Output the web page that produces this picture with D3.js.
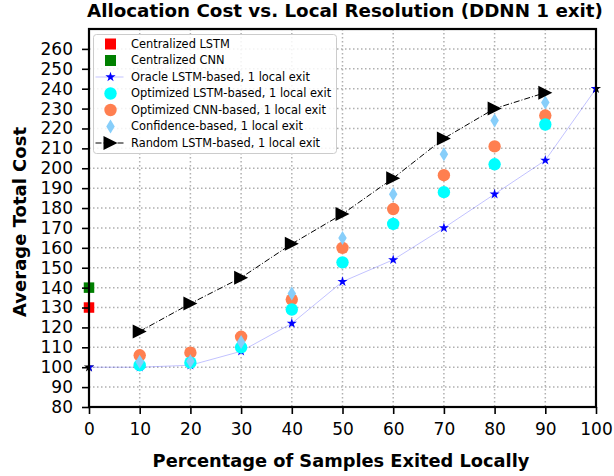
<!DOCTYPE html>
<html>
<head>
<meta charset="utf-8">
<script src="https://cdn.jsdelivr.net/npm/d3@7"></script>
<style>
  html, body { margin: 0; padding: 0; background: #fff; }
  svg { display: block; font-family: "DejaVu Sans", sans-serif; }
</style>
</head>
<body>
<svg id="chart" width="614" height="476"></svg>
<script>
// Percentage of samples exited locally
const pctExited = [0, 10, 20, 30, 40, 50, 60, 70, 80, 90, 100];
const pctMid = [10, 20, 30, 40, 50, 60, 70, 80, 90];

// Average total cost per strategy
const centralizedLSTM = 130;
const centralizedCNN = 140;
const oracleLSTM = [100, 100, 101, 108, 122, 143, 154, 170, 187, 204, 240];
const optimizedLSTM = [101, 102.3, 110, 129, 152.7, 172, 188, 202, 222];
const optimizedCNN = [106, 107.3, 115.3, 134, 160, 179.5, 196.5, 211, 226.5];
const confidence = [102.7, 103, 112.7, 137, 165, 187, 207, 224, 233];
const randomLSTM = [118, 132, 145, 162, 177, 195, 215, 230, 238];

const xTicks = [0, 10, 20, 30, 40, 50, 60, 70, 80, 90, 100];
const yTicks = [80, 90, 100, 110, 120, 130, 140, 150, 160, 170, 180, 190, 200, 210, 220, 230, 240, 250, 260];

const svg = d3.select("#chart");
const plot = { left: 89, right: 596, top: 29, bottom: 407 };

const x = d3.scaleLinear().domain([0, 100]).range([plot.left, plot.right]);
const y = d3.scaleLinear().domain([80, 270]).range([plot.bottom, plot.top]);

// Clip region for the axes area
svg.append("defs").append("clipPath").attr("id", "plotClip")
  .append("rect")
  .attr("x", plot.left).attr("y", plot.top)
  .attr("width", plot.right - plot.left).attr("height", plot.bottom - plot.top);

// Dotted grid
const grid = svg.append("g");
grid.selectAll("line.gx").data(xTicks).join("line")
  .attr("x1", d => x(d)).attr("x2", d => x(d))
  .attr("y1", plot.top).attr("y2", plot.bottom)
  .attr("stroke", "#b0b0b0").attr("stroke-width", 1.5).attr("stroke-dasharray", "1.5,2.5");
grid.selectAll("line.gy").data(yTicks).join("line")
  .attr("x1", plot.left).attr("x2", plot.right)
  .attr("y1", d => y(d)).attr("y2", d => y(d))
  .attr("stroke", "#b0b0b0").attr("stroke-width", 1.5).attr("stroke-dasharray", "1.5,2.5");

// Marker shapes
const star = d3.symbol().type(d3.symbolStar).size(32);
const square = s => `M${-s/2},${-s/2}h${s}v${s}h${-s}Z`;
const triRight = r => `M${r},0L${-r},${-r}L${-r},${r}Z`;
const thinDiamond = (w, h) => `M0,${-h/2}L${w/2},0L0,${h/2}L${-w/2},0Z`;

// Oracle stars half outside the axes show up dark; draw an unclipped black layer first
const edgeStars = svg.append("g");
edgeStars.selectAll("path").data([0, 10]).join("path")
  .attr("d", star())
  .attr("transform", i => `translate(${x(pctExited[i])},${y(oracleLSTM[i])})`)
  .attr("fill", "#000");

const marks = svg.append("g").attr("clip-path", "url(#plotClip)");

// Oracle LSTM line + stars
marks.append("path")
  .datum(pctExited.map((p, i) => [p, oracleLSTM[i]]))
  .attr("d", d3.line().x(d => x(d[0])).y(d => y(d[1])))
  .attr("fill", "none").attr("stroke", "#0000ff").attr("stroke-opacity", 0.3).attr("stroke-width", 0.8);
marks.selectAll("path.oracle").data(pctExited).join("path")
  .attr("class", "oracle")
  .attr("d", star())
  .attr("transform", (p, i) => `translate(${x(p)},${y(oracleLSTM[i])})`)
  .attr("fill", "#0000ff");

// Optimized CNN-based
marks.selectAll("circle.cnn").data(pctMid).join("circle")
  .attr("class", "cnn")
  .attr("cx", p => x(p)).attr("cy", (p, i) => y(optimizedCNN[i]))
  .attr("r", 6.2).attr("fill", "#ff7f50");

// Optimized LSTM-based
marks.selectAll("circle.lstm").data(pctMid).join("circle")
  .attr("class", "lstm")
  .attr("cx", p => x(p)).attr("cy", (p, i) => y(optimizedLSTM[i]))
  .attr("r", 6.2).attr("fill", "#00ffff");

// Confidence-based
marks.selectAll("path.conf").data(pctMid).join("path")
  .attr("class", "conf")
  .attr("d", thinDiamond(8.5, 14))
  .attr("transform", (p, i) => `translate(${x(p)},${y(confidence[i])})`)
  .attr("fill", "#87cefa");

// Random LSTM-based
marks.append("path")
  .datum(pctMid.map((p, i) => [p, randomLSTM[i]]))
  .attr("d", d3.line().x(d => x(d[0])).y(d => y(d[1])))
  .attr("fill", "none").attr("stroke", "#000").attr("stroke-width", 1)
  .attr("stroke-dasharray", "6,2,1,2");
marks.selectAll("path.rand").data(pctMid).join("path")
  .attr("class", "rand")
  .attr("d", triRight(7))
  .attr("transform", (p, i) => `translate(${x(p)},${y(randomLSTM[i])})`)
  .attr("fill", "#000");

// Centralized baselines at 0%
const central = svg.append("g");
central.append("path").attr("d", square(10.5))
  .attr("transform", `translate(${x(0)},${y(centralizedLSTM)})`).attr("fill", "#ff0000");
central.append("path").attr("d", square(10.5))
  .attr("transform", `translate(${x(0)},${y(centralizedCNN)})`).attr("fill", "#008000");

// Axes
const xAxis = svg.append("g").attr("transform", `translate(0,${plot.bottom})`)
  .call(d3.axisBottom(x).tickValues(xTicks).tickFormat(d3.format("d")).tickSize(7).tickPadding(9));
const yAxis = svg.append("g").attr("transform", `translate(${plot.left},0)`)
  .call(d3.axisLeft(y).tickValues(yTicks).tickFormat(d3.format("d")).tickSize(7).tickPadding(9));
[xAxis, yAxis].forEach(a => {
  a.select(".domain").remove();
  a.selectAll(".tick line").attr("stroke", "#000").attr("stroke-width", 1.6);
  a.selectAll(".tick text").attr("font-family", "DejaVu Sans").attr("font-size", 17).attr("fill", "#000");
});

// Frame
svg.append("rect")
  .attr("x", plot.left).attr("y", plot.top)
  .attr("width", plot.right - plot.left).attr("height", plot.bottom - plot.top)
  .attr("fill", "none").attr("stroke", "#000").attr("stroke-width", 2.2);

// Legend
const legendItems = [
  { label: "Centralized LSTM", kind: "square", color: "#ff0000" },
  { label: "Centralized CNN", kind: "square", color: "#008000" },
  { label: "Oracle LSTM-based, 1 local exit", kind: "star", color: "#0000ff" },
  { label: "Optimized LSTM-based, 1 local exit", kind: "circle", color: "#00ffff" },
  { label: "Optimized CNN-based, 1 local exit", kind: "circle", color: "#ff7f50" },
  { label: "Confidence-based, 1 local exit", kind: "diamond", color: "#87cefa" },
  { label: "Random LSTM-based, 1 local exit", kind: "tri", color: "#000" }
];
const legend = svg.append("g");
legend.append("rect")
  .attr("x", 93.5).attr("y", 34.5).attr("width", 243).attr("height", 119)
  .attr("rx", 3).attr("fill", "#fff").attr("fill-opacity", 0.85)
  .attr("stroke", "#cccccc").attr("stroke-width", 1);
const rowY = i => 44 + i * 16.5;
const hx = 110.5;
legendItems.forEach((it, i) => {
  const g = legend.append("g").attr("transform", `translate(${hx},${rowY(i)})`);
  if (it.kind === "square") {
    g.append("path").attr("d", square(11)).attr("fill", it.color);
  } else if (it.kind === "star") {
    g.append("line").attr("x1", -15).attr("x2", 13).attr("stroke", "#0000ff")
      .attr("stroke-opacity", 0.3).attr("stroke-width", 0.8);
    g.append("path").attr("d", star()).attr("fill", it.color);
  } else if (it.kind === "circle") {
    g.append("circle").attr("r", 6.2).attr("fill", it.color);
  } else if (it.kind === "diamond") {
    g.append("path").attr("d", thinDiamond(8.5, 14)).attr("fill", it.color);
  } else {
    g.append("line").attr("x1", -15).attr("x2", 13).attr("stroke", "#000")
      .attr("stroke-width", 1).attr("stroke-dasharray", "6,2,1,2");
    g.append("path").attr("d", triRight(7)).attr("fill", "#000");
  }
  legend.append("text")
    .attr("x", 131).attr("y", rowY(i)).attr("dy", "0.35em")
    .attr("font-size", 11.4).attr("fill", "#000").text(it.label);
});

// Title and axis labels
svg.append("text")
  .attr("x", 345).attr("y", 17)
  .attr("text-anchor", "middle").attr("font-weight", "bold").attr("font-size", 18.3)
  .text("Allocation Cost vs. Local Resolution (DDNN 1 exit)");
svg.append("text")
  .attr("x", 341).attr("y", 467)
  .attr("text-anchor", "middle").attr("font-weight", "bold").attr("font-size", 17.8)
  .text("Percentage of Samples Exited Locally");
svg.append("text")
  .attr("transform", `translate(26,${(plot.top + plot.bottom) / 2 + 4}) rotate(-90)`)
  .attr("text-anchor", "middle").attr("font-weight", "bold").attr("font-size", 18)
  .text("Average Total Cost");
</script>
</body>
</html>
